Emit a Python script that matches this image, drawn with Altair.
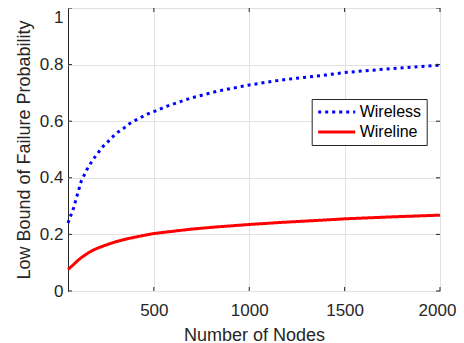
import altair as alt
import pandas as pd

nodes = [50, 80, 100, 120, 150, 175, 200, 235, 260, 300, 340, 370, 400, 466,
         500, 560, 600, 700, 840, 1000, 1160, 1400, 1500, 1750, 2000]
wireless = [0.24, 0.295, 0.343, 0.389, 0.43, 0.458, 0.482, 0.512, 0.528, 0.556,
            0.574, 0.59, 0.602, 0.625, 0.634, 0.651, 0.66, 0.683, 0.707, 0.728,
            0.745, 0.763, 0.772, 0.786, 0.798]
wireline = [0.076, 0.094, 0.107, 0.118, 0.132, 0.142, 0.150, 0.159, 0.165, 0.174,
            0.181, 0.186, 0.190, 0.199, 0.203, 0.208, 0.211, 0.219, 0.227, 0.235,
            0.242, 0.251, 0.255, 0.262, 0.268]
series_names = ["Wireless", "Wireline"]
x_ticks = [500, 1000, 1500, 2000]
y_ticks = [0, 0.2, 0.4, 0.6, 0.8, 1]

df = pd.DataFrame({
    "N": nodes + nodes,
    "P": wireless + wireline,
    "series": [series_names[0]] * len(nodes) + [series_names[1]] * len(nodes),
})
xt = pd.DataFrame({"N": x_ticks})
yt = pd.DataFrame({"P": y_ticks})

FONT = "Liberation Sans"
TXT = "#262626"
W, H = 372, 283

x_scale = alt.Scale(domain=[50, 2000], nice=False, zero=False)
y_scale = alt.Scale(domain=[0, 1], nice=False)

x_axis = alt.Axis(
    values=x_ticks, format="d", title="Number of Nodes", grid=True,
    ticks=False, tickSize=0, domain=False,
    labelPadding=24.7, labelBaseline="alphabetic", labelFlush=False,
    labelOffset={"condition": {"test": "datum.value == 2000", "value": -3}, "value": 0},
    titleY=49, titleBaseline="alphabetic")
y_axis = alt.Axis(
    values=y_ticks, format="~g", title="Low Bound of Failure Probability",
    grid=True, ticks=False, tickSize=0, domain=False,
    labelPadding=5, labelFlush=False,
    labelOffset={"condition": {"test": "datum.value == 1", "value": 9}, "value": 0},
    titleX=-38.7, titleBaseline="alphabetic")

legend = alt.Legend(
    title=None, orient="none", legendX=243.7, legendY=91,
    symbolType="stroke", symbolSize=1369, symbolStrokeWidth=3,
    clipHeight=16, rowPadding=4, padding=5,
    strokeColor=TXT, fillColor="white", cornerRadius=0,
    labelFont=FONT, labelFontSize=16, labelColor="#000000", labelOffset=3,
)

lines = alt.Chart(df).mark_line(strokeWidth=3, strokeCap="butt").encode(
    x=alt.X("N:Q", scale=x_scale, axis=x_axis),
    y=alt.Y("P:Q", scale=y_scale, axis=y_axis),
    color=alt.Color("series:N", scale=alt.Scale(domain=series_names,
                                                range=["#0000ff", "#ff0000"]),
                    legend=legend),
    strokeDash=alt.StrokeDash("series:N", scale=alt.Scale(domain=series_names,
                                                          range=[[3, 4], [1, 0]]),
                              legend=legend),
)

tick_col = TXT
tb = alt.Chart(xt).mark_rule(color=tick_col, strokeWidth=1).encode(
    x=alt.X("N:Q", scale=x_scale, axis=x_axis), y=alt.value(H - 4), y2=alt.value(H))
tt = alt.Chart(xt).mark_rule(color=tick_col, strokeWidth=1).encode(
    x=alt.X("N:Q", scale=x_scale, axis=x_axis), y=alt.value(0), y2=alt.value(4))
tl = alt.Chart(yt).mark_rule(color=tick_col, strokeWidth=1).encode(
    y=alt.Y("P:Q", scale=y_scale, axis=y_axis), x=alt.value(0), x2=alt.value(4))
tr = alt.Chart(yt).mark_rule(color=tick_col, strokeWidth=1).encode(
    y=alt.Y("P:Q", scale=y_scale, axis=y_axis), x=alt.value(W - 4), x2=alt.value(W))

chart = alt.layer(lines, tb, tt, tl, tr).properties(
    width=W, height=H,
    autosize=alt.AutoSizeParams(type="none"),
    padding={"left": 60, "top": 0, "right": 16, "bottom": 52},
).configure_view(
    stroke=TXT, strokeWidth=1
).configure_axis(
    labelFont=FONT, titleFont=FONT, labelFontSize=17, titleFontSize=18,
    labelColor=TXT, titleColor=TXT, titleFontWeight="normal",
    gridColor="#e1e1e1", gridWidth=1,
)

chart.save("out.html", embed_options={"renderer": "svg", "actions": False})
